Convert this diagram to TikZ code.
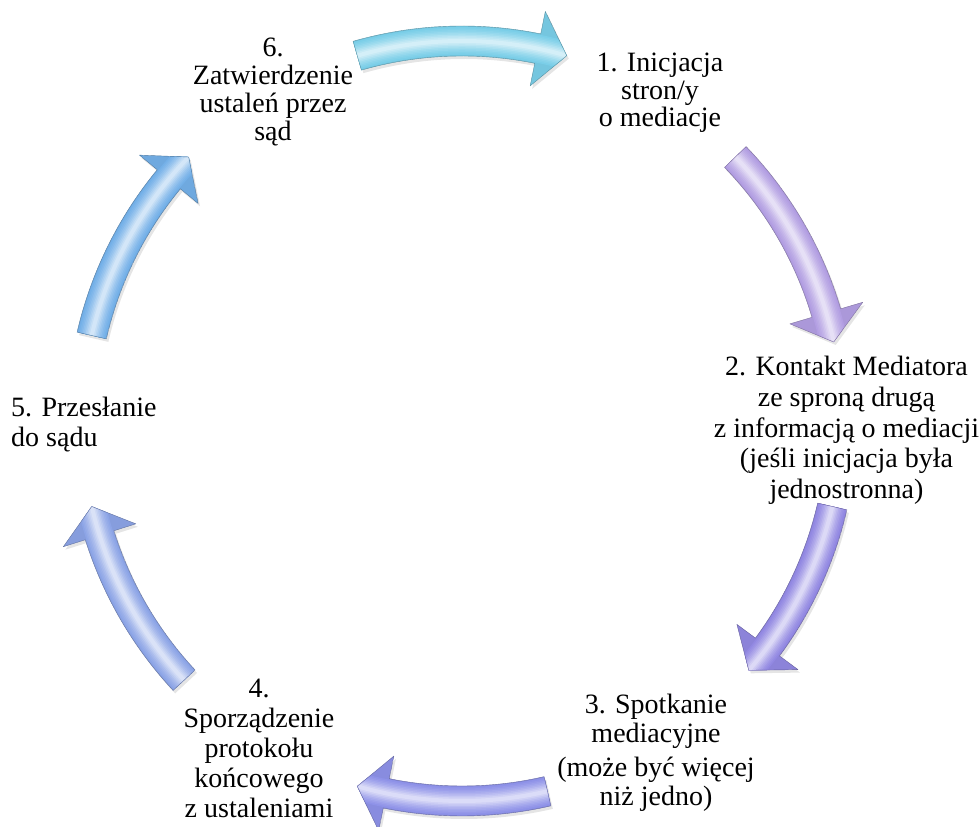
\documentclass[tikz,border=0pt]{standalone}
\usepackage{fontspec}
\setmainfont{Liberation Serif}
\definecolor{c1}{RGB}{122,206,232}
\definecolor{c2}{RGB}{178,158,226}
\definecolor{c3}{RGB}{146,136,226}
\definecolor{c4}{RGB}{142,146,232}
\definecolor{c5}{RGB}{140,164,230}
\definecolor{c6}{RGB}{116,176,232}
\tikzset{
  txt/.style={inner sep=0pt, align=center, text=black, anchor=north},
}
\newcommand{\cycarrow}[3]{%
  \pgfmathsetmacro{\cyT}{#1}%
  \pgfmathsetmacro{\cyP}{#2}%
  \pgfmathsetmacro{\cyB}{#2+4.5}%
  \pgfmathsetmacro{\cyTT}{#1+2}%
  \def\cyshape{(\cyT:395bp) arc[start angle=\cyT, end angle=\cyB, radius=395bp] -- (\cyB:418bp) -- (\cyP:380bp) -- (\cyB:342bp) -- (\cyB:365bp) arc[start angle=\cyB, end angle=\cyT, radius=365bp] -- cycle}%
  \begin{scope}[shift={(462bp,406bp)}]
    \fill[black, opacity=0.10, shift={(2bp,-3bp)}] \cyshape;
    \begin{scope}
      \clip \cyshape;
      \fill[#3!96!black] \cyshape;
      \foreach \w/\m in {28/100,25/94,22/88,19/80,16/72,13/62,10/52,7/42,4/32}{%
        \draw[#3!\m!white, line width=\w bp] (\cyTT:380bp) arc[start angle=\cyTT, end angle=\cyP, radius=380bp];}
    \end{scope}
    \draw[#3!70!black, line width=0.4bp, line join=round] \cyshape;
  \end{scope}}
\begin{document}
\begin{tikzpicture}[x=1bp,y=1bp]
  \useasboundingbox (0,0) rectangle (980,827);
  \fill[white] (0,0) rectangle (980,827);
  % arrows
  \cycarrow{106}{74}{c1}
  \cycarrow{44}{12}{c2}
  \cycarrow{-13}{-41}{c3}
  \cycarrow{-77}{-106}{c4}
  \cycarrow{-137}{-167}{c5}
  \cycarrow{167}{136}{c6}
  % texts
  \node[txt, font={\fontsize{28bp}{27.5bp}\selectfont}] (n1) at (660,774) {1. Inicjacja\\stron/y\\o mediacje};
  \node[txt, font={\fontsize{28bp}{30.7bp}\selectfont}] (n2) at (846.5,471) {2. Kontakt Mediatora\\ze sproną drugą\\z informacją o mediacji\\(jeśli inicjacja była\\jednostronna)};
  \node[txt, font={\fontsize{28bp}{28.5bp}\selectfont}] (n3) at (656,133) {3. Spotkanie\\mediacyjne\\[6bp](może być więcej\\niż jedno)};
  \node[txt, font={\fontsize{28bp}{30bp}\selectfont}] (n4) at (259,148) {4.\\Sporządzenie\\protokołu\\końcowego\\z ustaleniami};
  \node[txt, anchor=north west, align=left, font={\fontsize{28bp}{30bp}\selectfont}] (n5) at (11,430) {5. Przesłanie\\do sądu};
  \node[txt, font={\fontsize{28bp}{28bp}\selectfont}] (n6) at (273,789) {6.\\Zatwierdzenie\\ustaleń przez\\sąd};
\end{tikzpicture}
\end{document}
